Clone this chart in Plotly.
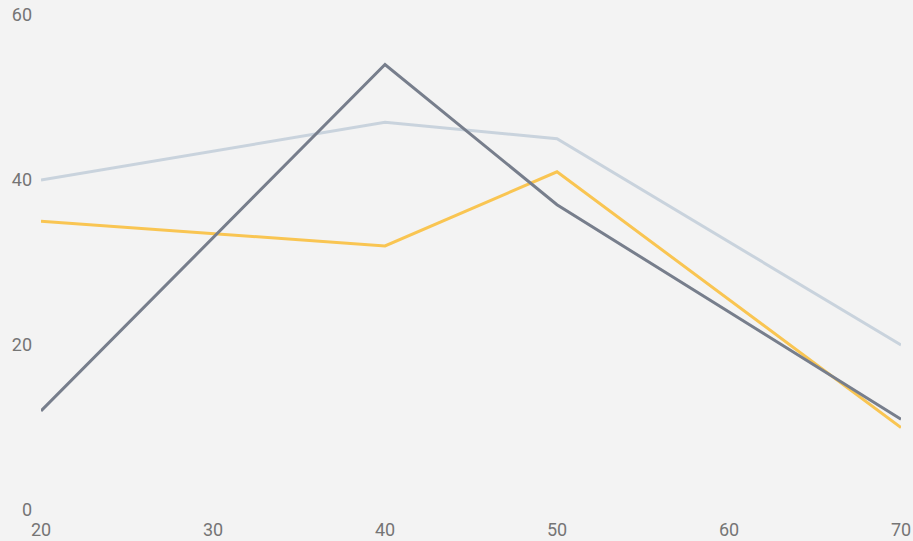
import plotly.graph_objects as go

x_vals = [20, 40, 50, 70]
series_light = [40, 47, 45, 20]
series_yellow = [35, 32, 41, 10]
series_dark = [12, 54, 37, 11]

x_ticks = [20, 30, 40, 50, 60, 70]
y_ticks = [0, 20, 40, 60]

fig = go.Figure()
fig.add_trace(go.Scatter(x=x_vals, y=series_light, mode="lines",
                         line=dict(color="#c9d3dd", width=3), showlegend=False))
fig.add_trace(go.Scatter(x=x_vals, y=series_yellow, mode="lines",
                         line=dict(color="#f9c552", width=3), showlegend=False))
fig.add_trace(go.Scatter(x=x_vals, y=series_dark, mode="lines",
                         line=dict(color="#777e8c", width=3), showlegend=False))

fig.update_layout(
    width=913, height=541,
    margin=dict(l=41, r=12, t=15, b=31),
    paper_bgcolor="#f3f3f3", plot_bgcolor="#f3f3f3",
    font=dict(family="Roboto", size=18, color="#757575"),
    xaxis=dict(range=[20, 70], tickvals=x_ticks, showgrid=False, zeroline=False,
               showline=False, ticks="", ticklabelstandoff=7, automargin=False),
    yaxis=dict(range=[0, 60], tickvals=y_ticks, showgrid=False, zeroline=False,
               showline=False, ticks="", ticklabelstandoff=8, automargin=False),
)
fig.write_html("out.html", config={"displayModeBar": False},
               post_script="document.body.style.margin='0';document.body.style.padding='0';")
